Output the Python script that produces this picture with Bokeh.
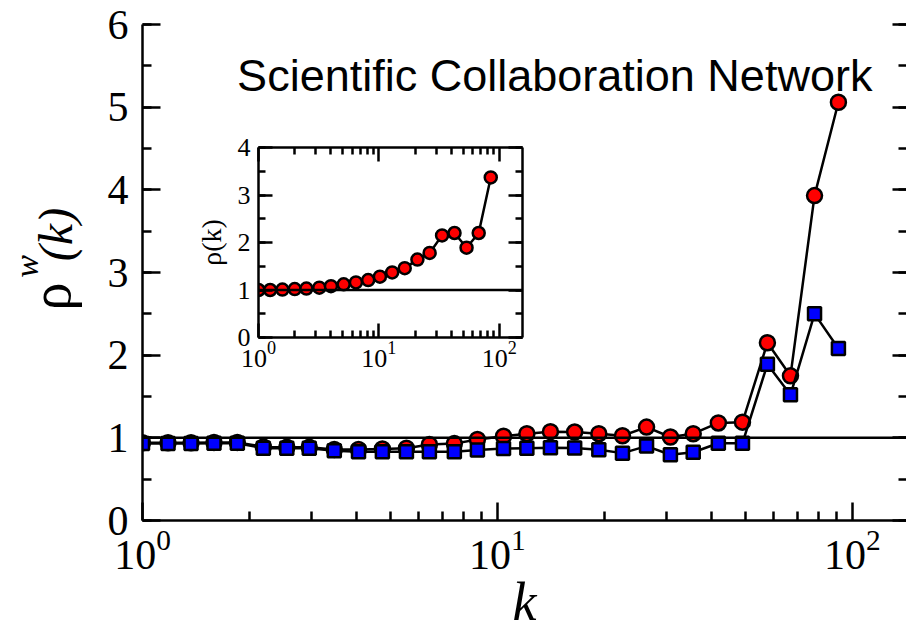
import math
from bokeh.plotting import figure
from bokeh.models import (Range1d, LinearAxis, LogAxis, FixedTicker, SingleIntervalTicker,
                          Span, Label)
from bokeh.embed import file_html
from bokeh.resources import INLINE

# ---------------- data ----------------
k_main = [1.0, 1.18, 1.37, 1.59, 1.85, 2.19, 2.55, 2.95, 3.47, 4.06,
          4.74, 5.54, 6.43, 7.56, 8.78, 10.4, 12.1, 14.1, 16.5, 19.3,
          22.5, 26.3, 30.7, 35.6, 41.9, 49.0, 57.6, 66.9, 78.2, 91.3]
rho_w_circles = [0.94, 0.94, 0.94, 0.945, 0.945, 0.89, 0.885, 0.885, 0.86, 0.86,
                 0.865, 0.875, 0.92, 0.93, 0.98, 1.02, 1.05, 1.075, 1.07, 1.05,
                 1.025, 1.13, 1.01, 1.05, 1.18, 1.19, 2.15, 1.75, 3.93, 5.06]
rho_w_squares = [0.93, 0.93, 0.93, 0.935, 0.935, 0.875, 0.875, 0.875, 0.845, 0.833,
                 0.833, 0.833, 0.833, 0.833, 0.854, 0.87, 0.875, 0.88, 0.878, 0.855,
                 0.815, 0.90, 0.795, 0.825, 0.935, 0.935, 1.89, 1.52, 2.50, 2.08]

k_inset = [1.0, 1.25, 1.58, 2.0, 2.5, 3.2, 4.0, 5.1, 6.45, 8.15,
           10.2, 12.9, 16.4, 20.9, 26.4, 33.5, 42.5, 53.5, 67.5, 85.0]
rho_inset = [1.0, 1.0, 1.01, 1.02, 1.03, 1.05, 1.08, 1.12, 1.16, 1.21,
             1.28, 1.37, 1.46, 1.64, 1.78, 2.15, 2.20, 1.89, 2.20, 3.37]

y_ticks_main = [0, 1, 2, 3, 4, 5, 6]
y_ticks_inset = [0, 1, 2, 3, 4]
x_major = [1, 10, 100]
x_minor = [2, 3, 4, 5, 6, 7, 8, 9, 20, 30, 40, 50, 60, 70, 80, 90]

SERIF = "Liberation Serif"
SANS = "Liberation Sans"

# ---------------- main figure ----------------
p = figure(width=906, height=639, x_axis_type="log",
           x_range=Range1d(1, 142), y_range=Range1d(0, 6),
           output_backend="svg", toolbar_location=None,
           min_border_left=142, min_border_right=0,
           min_border_top=24, min_border_bottom=119)
p.outline_line_color = None
p.xgrid.visible = False
p.ygrid.visible = False

xa = p.xaxis[0]
xa.ticker = FixedTicker(ticks=x_major, minor_ticks=x_minor)
ya = p.yaxis[0]
ya.ticker = SingleIntervalTicker(interval=1, num_minor_ticks=2)
for ax in (xa, ya):
    ax.axis_line_width = 2.5
    ax.axis_line_color = "black"
    ax.major_tick_line_width = 2.5
    ax.minor_tick_line_width = 2.5
    ax.major_tick_in = 18
    ax.major_tick_out = 0
    ax.minor_tick_in = 9
    ax.minor_tick_out = 0
    ax.major_label_text_font = SERIF
    ax.major_label_text_font_size = "42px"
    ax.major_label_text_color = "black"
xa.major_label_standoff = 10
ya.major_label_standoff = 14
xa.axis_label = "k"
xa.axis_label_text_font = SERIF
xa.axis_label_text_font_style = "italic"
xa.axis_label_text_font_size = "54px"
xa.axis_label_text_color = "black"
xa.axis_label_standoff = 0

ra = LinearAxis(ticker=SingleIntervalTicker(interval=1, num_minor_ticks=2),
                major_label_overrides={t: "" for t in y_ticks_main},
                axis_line_color=None, major_tick_line_width=2.5,
                minor_tick_line_width=2.5, major_tick_in=14, major_tick_out=0,
                minor_tick_in=8, minor_tick_out=0, major_label_standoff=0,
                major_label_text_font_size="1px")
p.add_layout(ra, "right")

p.add_layout(Span(location=1, dimension="width", line_color="black", line_width=2.5))

p.line(k_main, rho_w_circles, line_color="black", line_width=2.5)
p.scatter(k_main, rho_w_circles, marker="circle", size=15, fill_color="#ff0000",
          line_color="black", line_width=2.5)
p.line(k_main, rho_w_squares, line_color="black", line_width=2.5)
p.scatter(k_main, rho_w_squares, marker="square", size=13, fill_color="#0000ff",
          line_color="black", line_width=2.5)

p.add_layout(Label(x=14.5, y=5.38, text="Scientific Collaboration Network",
                   text_align="center", text_baseline="middle",
                   text_font=SANS, text_font_size="45px", text_color="black"))

# ---------------- y-axis title (overlay, so mixed styles can be used) ----------------
ylab = figure(width=110, height=170, x_range=Range1d(0, 110), y_range=Range1d(0, 170),
              x_axis_location=None, y_axis_location=None, min_border=0,
              output_backend="svg", toolbar_location=None)
ylab.styles = {"position": "absolute", "left": "0px", "top": "180px"}
ylab.outline_line_color = None
ylab.background_fill_alpha = 0
ylab.border_fill_alpha = 0
ylab.grid.visible = False
ylab.add_layout(Label(x=50, y=54, text="ρ", angle=math.pi / 2, text_align="center",
                      text_baseline="middle", text_font=SERIF, text_font_size="56px",
                      text_color="black"))
ylab.add_layout(Label(x=26, y=84, text="w", angle=math.pi / 2, text_align="center",
                      text_baseline="middle", text_font=SERIF, text_font_style="italic",
                      text_font_size="34px", text_color="black"))
ylab.add_layout(Label(x=55, y=116, text="(k)", angle=math.pi / 2, text_align="center",
                      text_baseline="middle", text_font=SERIF, text_font_style="italic",
                      text_font_size="48px", text_color="black"))

# ---------------- inset ----------------
ins = figure(width=360, height=264, x_axis_type="log",
             x_range=Range1d(1, 156), y_range=Range1d(0, 4),
             output_backend="svg", toolbar_location=None,
             min_border_left=78, min_border_right=18,
             min_border_top=22, min_border_bottom=52)
ins.styles = {"position": "absolute", "left": "180px", "top": "125px"}
ins.outline_line_color = None
ins.border_fill_alpha = 0
ins.xgrid.visible = False
ins.ygrid.visible = False

ixa = ins.xaxis[0]
ixa.ticker = FixedTicker(ticks=x_major, minor_ticks=x_minor)
iya = ins.yaxis[0]
iya.ticker = SingleIntervalTicker(interval=1, num_minor_ticks=2)
ita = LinearAxis(ticker=SingleIntervalTicker(interval=1, num_minor_ticks=2),
                 major_label_overrides={t: "" for t in y_ticks_inset},
                 major_label_standoff=0, major_label_text_font_size="1px")
ins.add_layout(ita, "right")
iup = LogAxis(ticker=FixedTicker(ticks=x_major, minor_ticks=x_minor),
              major_label_overrides={t: "" for t in x_major},
              major_label_standoff=0, major_label_text_font_size="1px")
ins.add_layout(iup, "above")
for ax in (ixa, iya, ita, iup):
    ax.axis_line_width = 2.5
    ax.axis_line_color = "black"
    ax.major_tick_line_width = 2.5
    ax.minor_tick_line_width = 2.5
    ax.major_tick_in = 14
    ax.major_tick_out = 0
    ax.minor_tick_in = 7
    ax.minor_tick_out = 0
for ax in (ixa, iya):
    ax.major_label_text_font = SERIF
    ax.major_label_text_font_size = "26px"
    ax.major_label_text_color = "black"
ixa.major_label_standoff = 4
iya.major_label_standoff = 8
iya.axis_label = "ρ(k)"
iya.axis_label_text_font = SERIF
iya.axis_label_text_font_style = "normal"
iya.axis_label_text_font_size = "28px"
iya.axis_label_text_color = "black"
iya.axis_label_standoff = 8

ins.add_layout(Span(location=1, dimension="width", line_color="black", line_width=2.5))
ins.line(k_inset, rho_inset, line_color="black", line_width=2.5)
ins.scatter(k_inset, rho_inset, marker="circle", size=12, fill_color="#ff0000",
            line_color="black", line_width=2.5)

open("out.html", "w").write(file_html([p, ylab, ins], INLINE))
